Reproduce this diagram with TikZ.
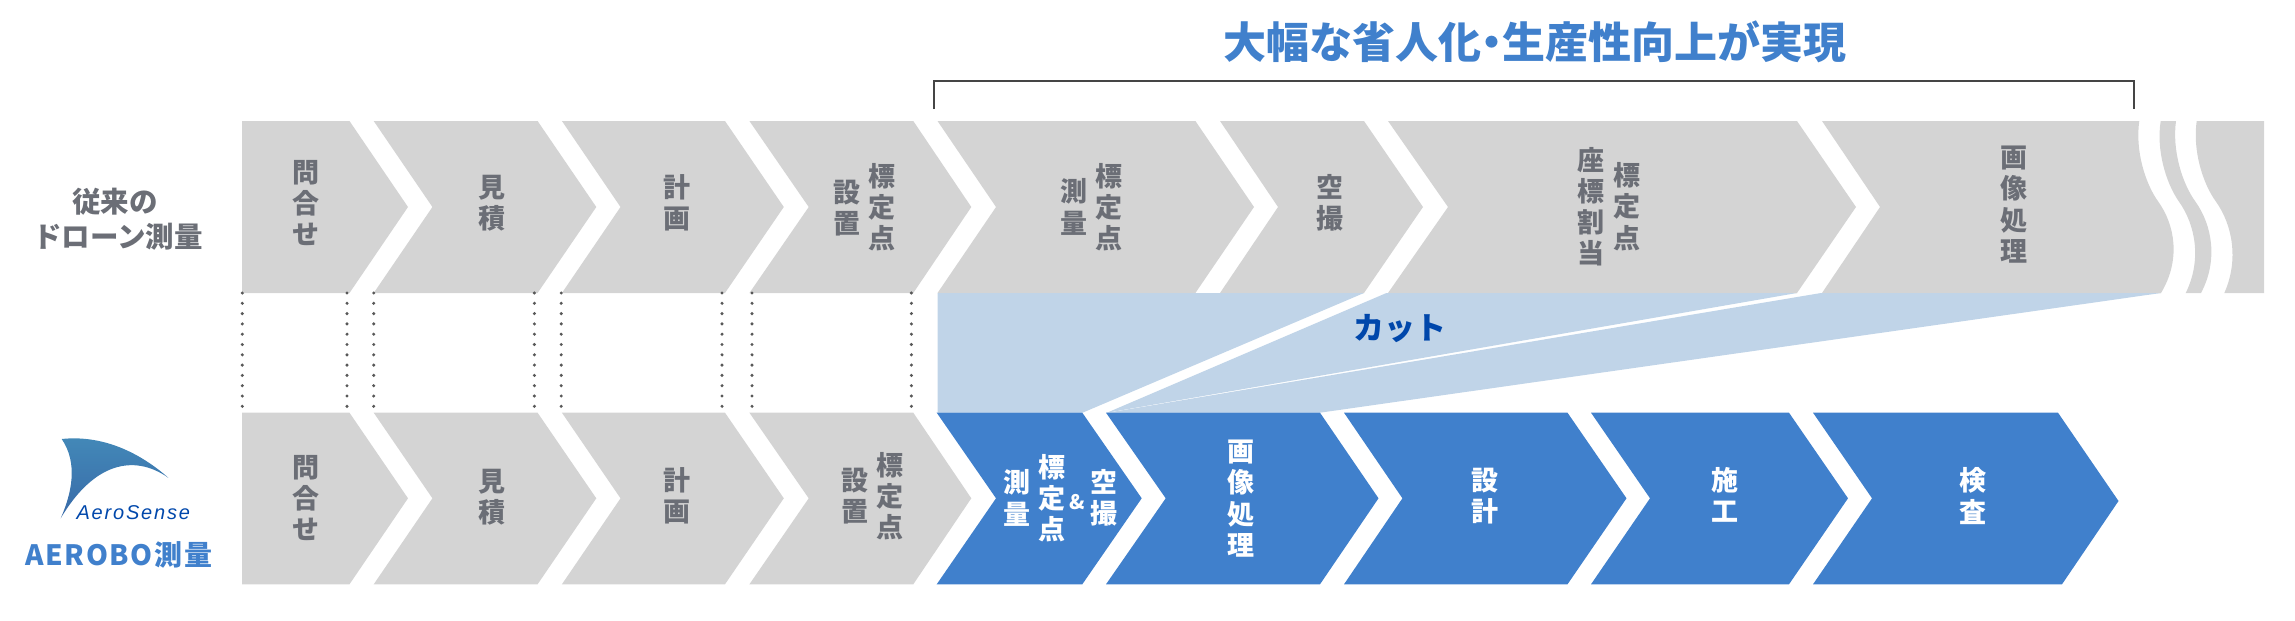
\documentclass[tikz,border=0pt]{standalone}
\usepackage{fontspec}
\newfontfamily\cjk{Noto Sans CJK JP}
\newfontfamily\logofont{Liberation Sans}
\definecolor{graybox}{HTML}{D4D4D4}
\definecolor{bluebox}{HTML}{4080CC}
\definecolor{lightblue}{HTML}{C0D4E8}
\definecolor{graytext}{HTML}{6B6E76}
\definecolor{deepblue}{HTML}{0047AB}
\definecolor{dotgray}{HTML}{585858}
\definecolor{bracketgray}{HTML}{454545}
\definecolor{sailtop}{HTML}{4389B8}
\definecolor{sailbottom}{HTML}{386AA8}
\tikzset{
  grayfill/.style={fill=graybox,draw=none},
  bluefill/.style={fill=bluebox,draw=none},
  cutfill/.style={fill=lightblue,draw=none},
  stack/.style={inner sep=0pt,align=center,text=graytext,font=\cjk\bfseries\fontsize{27}{31.3}\selectfont},
  stackw/.style={stack,text=white},
  sidelabel/.style={inner sep=0pt,align=center,text=graytext,font=\cjk\bfseries\fontsize{28.5}{35}\selectfont},
  dotline/.style={dotgray,line width=3.4pt,line cap=round,dash pattern=on 0pt off 10.3pt},
  bracketline/.style={bracketgray,line width=2.4pt,line join=miter}
}
% style, left, notch, shoulder, tip, top, mid, bottom
\newcommand\chevshape[8]{\fill[#1] (#2,#6) -- (#4,#6) -- (#5,#7) -- (#4,#8) -- (#2,#8) -- (#3,#7) -- cycle;}
\begin{document}
\begin{tikzpicture}[x=1pt,y=-1pt]
\useasboundingbox (0,0) rectangle (2295,621);
% top row
\chevshape{grayfill}{242}{242}{349.5}{408}{121}{207}{293}
\chevshape{grayfill}{373.7}{432.4}{537.6}{596.3}{121}{207}{293}
\chevshape{grayfill}{561.9}{620.5}{725}{783.8}{121}{207}{293}
\chevshape{grayfill}{749.4}{808.7}{913.3}{971.3}{121}{207}{293}
\chevshape{grayfill}{937.5}{996}{1195.4}{1254}{121}{207}{293}
\chevshape{grayfill}{1220}{1278}{1364}{1423}{121}{207}{293}
\chevshape{grayfill}{1388}{1448}{1797}{1856}{121}{207}{293}
\fill[grayfill] (1822,121) -- (2139.3,121) .. controls (2135,150) and (2145,183.3) .. (2158.3,201.7)
  .. controls (2175,225) and (2181,260) .. (2161,293) -- (1822,293) -- (1880,207) -- cycle;
\fill[grayfill] (2160.7,121) .. controls (2156,150) and (2166,183.3) .. (2179,201.7)
  .. controls (2195.5,225) and (2202,260) .. (2185.7,293) -- (2201,293)
  .. controls (2218.5,260) and (2212,225) .. (2195.5,201.7)
  .. controls (2182,183.3) and (2172,150) .. (2176,121) -- cycle;
\fill[grayfill] (2196.7,121) .. controls (2192.5,150) and (2202.5,183.3) .. (2216,201.7)
  .. controls (2232.5,225) and (2239,260) .. (2224.3,293) -- (2264,293) -- (2264,121) -- cycle;
% cut wedges
\fill[cutfill] (937.5,293) -- (1364,293) -- (1082.6,412.7) -- (937.5,412.7) -- cycle;
\fill[cutfill] (1386.4,293) -- (1797,293) -- (1107,412.7) -- cycle;
\fill[cutfill] (1821,293) -- (2161,293) -- (1320,412.7) -- (1107,412.7) -- (1118,411) -- cycle;
% dotted guides
\foreach \dx in {242.3,347,373.7,534.4,561.2,722,752,911.4}{\draw[dotline] (\dx,293) -- (\dx,408);}
% bottom row
\chevshape{grayfill}{242}{242}{349.5}{408}{412.7}{498.3}{584.3}
\chevshape{grayfill}{373.7}{432.4}{537.6}{596.3}{412.7}{498.3}{584.3}
\chevshape{grayfill}{561.9}{620.5}{725}{783.8}{412.7}{498.3}{584.3}
\chevshape{grayfill}{749.4}{808.7}{913.3}{971.3}{412.7}{498.3}{584.3}
\chevshape{bluefill}{936.7}{996}{1082.3}{1141.7}{412.7}{498.3}{584.3}
\chevshape{bluefill}{1106}{1165.7}{1320}{1378.5}{412.7}{498.3}{584.3}
\chevshape{bluefill}{1344}{1402.4}{1567.5}{1626.5}{412.7}{498.3}{584.3}
\chevshape{bluefill}{1591}{1650}{1789}{1848}{412.7}{498.3}{584.3}
\fill[bluefill] (1813,412.7) -- (2058,412.7) -- (2118.5,501) -- (2062,584.3) -- (1813,584.3) -- (1872,498.3) -- cycle;
% bracket
\draw[bracketline] (933.8,109) -- (933.8,81) -- (2134,81) -- (2134,109);
% title
\node[inner sep=0pt,text=bluebox,font=\cjk\bfseries\fontsize{43}{43}\selectfont] (title) at (1535,41.5) {大幅な省人化\kern-0.25em・\kern-0.25em生産性向上が実現};
% side labels
\node[sidelabel] (lab1) at (115,201.7) {従来の};
\node[sidelabel] (lab2) at (118,236.5) {ドローン測量};
\node[inner sep=0pt,text=bluebox,font=\cjk\bfseries\fontsize{28}{28}\selectfont] (lab3) at (118.7,555) {\addfontfeatures{LetterSpace=6}AEROBO測量};
% logo
\shade[top color=sailtop,bottom color=sailbottom,draw=none]
  (61.7,439) .. controls (100,435) and (136.7,450) .. (168.3,477.7)
  .. controls (133.3,453.3) and (93.3,463.3) .. (60.7,518.3)
  .. controls (71.7,493.3) and (78.3,463.3) .. (61.7,439) -- cycle;
\node[inner sep=0pt,text=deepblue,font=\logofont\itshape\fontsize{20}{20}\selectfont] (logotext) at (133.3,513) {\addfontfeatures{LetterSpace=9}AeroSense};
% top row text
\node[stack] (t1) at (306,203) {問\\合\\せ};
\node[stack] (t2) at (492,203) {見\\積};
\node[stack] (t3) at (676.7,203) {計\\画};
\node[stack] (t4a) at (847,208) {設\\置};
\node[stack] (t4b) at (882,207) {標\\定\\点};
\node[stack] (t5a) at (1073.5,207) {測\\量};
\node[stack] (t5b) at (1109,207) {標\\定\\点};
\node[stack] (t6) at (1329.7,202.5) {空\\撮};
\node[stack] (t7a) at (1591,206.7) {座\\標\\割\\当};
\node[stack] (t7b) at (1627,206.5) {標\\定\\点};
\node[stack] (t8) at (2014,204.5) {画\\像\\処\\理};
% cut label
\node[inner sep=0pt,text=deepblue,font=\cjk\bfseries\fontsize{31}{31}\selectfont] (cut) at (1400,329) {カット};
% bottom row text
\node[stack] (b1) at (306,498) {問\\合\\せ};
\node[stack] (b2) at (492,497) {見\\積};
\node[stack] (b3) at (677,496) {計\\画};
\node[stack] (b4a) at (855,496) {設\\置};
\node[stack] (b4b) at (890,496) {標\\定\\点};
\node[stackw] (b5a) at (1016.7,498) {測\\量};
\node[stackw] (b5b) at (1051.7,498) {標\\定\\点};
\node[inner sep=0pt,text=white,font=\cjk\bfseries\fontsize{20}{20}\selectfont] (b5c) at (1077.7,501.7) {\&};
\node[stackw] (b5d) at (1104,498) {空\\撮};
\node[stackw] (b6) at (1241,498.5) {画\\像\\処\\理};
\node[stackw] (b7) at (1484.5,496) {設\\計};
\node[stackw] (b8) at (1724.5,495) {施\\工};
\node[stackw] (b9) at (1972.6,496) {検\\査};
\end{tikzpicture}
\end{document}
